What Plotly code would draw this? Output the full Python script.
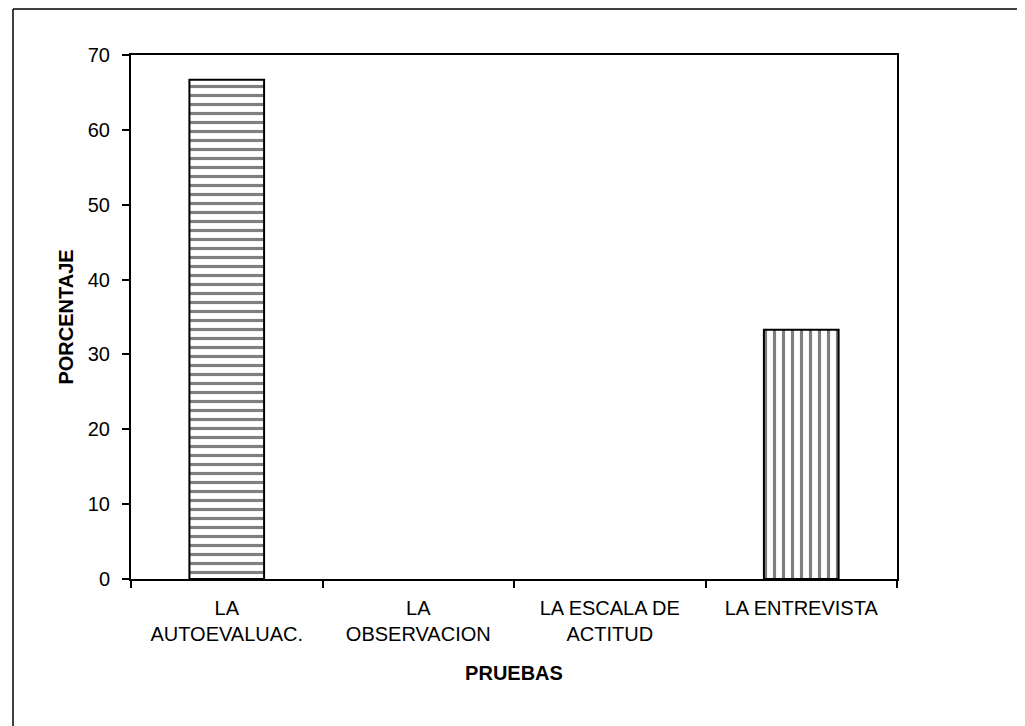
import plotly.graph_objects as go

# data
pruebas = ["LA<br>AUTOEVALUAC.", "LA<br>OBSERVACION", "LA ESCALA DE<br>ACTITUD", "LA ENTREVISTA"]
porcentaje = [66.7, 0, 0, 33.3]
patrones = ["-", "", "", "|"]
y_ticks = [0, 10, 20, 30, 40, 50, 60, 70]

# page has an 8px body margin, so the figure is a bit smaller than the window
W, H = 1017, 718
L, R, T, B = 123, 128, 47, 147
pw, ph = W - L - R, H - T - B

font = "Liberation Sans, Arial, sans-serif"

fig = go.Figure()
fig.add_trace(go.Bar(
    x=pruebas, y=porcentaje,
    marker=dict(
        color="white",
        line=dict(color="black", width=[2 if v > 0 else 0 for v in porcentaje]),
        pattern=dict(shape=patrones, fgcolor="black", bgcolor="white",
                     size=9, solidity=0.35, fillmode="overlay"),
    ),
    showlegend=False,
))

fig.update_layout(
    width=W, height=H,
    margin=dict(l=L, r=R, t=T, b=B),
    paper_bgcolor="white", plot_bgcolor="white",
    bargap=0.61,
    font=dict(family=font, color="black"),
    xaxis=dict(
        type="category", tickson="boundaries",
        ticks="outside", ticklen=7, tickwidth=1.5, tickcolor="black",
        ticklabelstandoff=10,
        showline=True, linecolor="black", linewidth=2, mirror=True,
        showgrid=False, tickfont=dict(size=20),
        title=dict(text="<b>PRUEBAS</b>", font=dict(size=20), standoff=22),
    ),
    yaxis=dict(
        range=[0, 70], tickvals=y_ticks,
        ticks="outside", ticklen=7, tickwidth=1.5, tickcolor="black",
        ticklabelstandoff=8,
        showline=True, linecolor="black", linewidth=2, mirror=True,
        showgrid=False, zeroline=False, tickfont=dict(size=20),
        title=dict(text="<b>PORCENTAJE</b>", font=dict(size=20), standoff=9),
    ),
)

# outer frame (left and top edges of the scanned border)
x_left = (5 - L) / pw
y_top = 1 + (T - 1) / ph
y_bot = -(B + 5) / ph
fig.add_shape(type="line", xref="paper", yref="paper",
              x0=x_left, x1=(W - L) / pw, y0=y_top, y1=y_top,
              line=dict(color="black", width=1.5))
fig.add_shape(type="line", xref="paper", yref="paper",
              x0=x_left, x1=x_left, y0=y_top, y1=y_bot,
              line=dict(color="black", width=1.5))

fig.write_html("out.html")
